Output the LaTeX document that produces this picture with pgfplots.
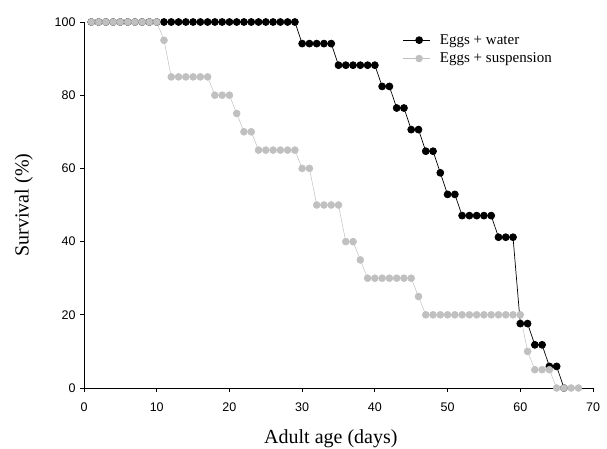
\documentclass[border=0pt]{standalone}
\usepackage{fontspec}
\setmainfont{Liberation Serif}
\newfontfamily\arial{Liberation Sans}
\usepackage{pgfplots}
\pgfplotsset{compat=1.18}
\definecolor{sgray}{RGB}{192,192,192}

\begin{document}
\begin{tikzpicture}
\useasboundingbox (0,0) rectangle (607pt,448pt);
\begin{axis}[
  at={(84pt,60pt)}, anchor=south west,
  scale only axis, width=509pt, height=366pt,
  xmin=0, xmax=70, ymin=0, ymax=100,
  xtick={0,10,...,70}, ytick={0,20,...,100},
  axis x line*=bottom, axis y line*=left,
  axis line style={-, line width=0.8pt},
  tick align=outside, major tick length=4pt,
  tick style={line width=0.8pt, black},
  /pgf/number format/assume math mode=true,
  ticklabel style={font=\arial\fontsize{12.5}{14}\selectfont},
  xticklabel style={yshift=-7pt},
  yticklabel style={xshift=-1pt},
  xlabel={Adult age (days)}, ylabel={Survival (\%)},
  label style={font=\fontsize{20}{24}\selectfont},
  xlabel style={at={(axis description cs:0.485,-0.138)}, anchor=center},
  ylabel style={at={(axis description cs:-0.118,0.5)}, anchor=center},
  clip=false,
  legend style={draw=none, fill=none, at={(0.62,0.976)}, anchor=north west,
    font=\fontsize{15}{17}\selectfont, row sep=4pt,
    nodes={inner sep=1.5pt},
    /tikz/every odd column/.append style={column sep=8pt}},
  legend cell align=left,
  legend image code/.code={
    \draw[#1, mark repeat=2, mark phase=2] plot coordinates {(0pt,0pt) (16pt,0pt) (27pt,0pt)};},
]
% eggs + water
\addplot[black, line width=0.7pt, mark=*, mark size=3.5pt, mark options={fill=black}] coordinates {
  (1,100) (2,100) (3,100) (4,100) (5,100) (6,100) (7,100) (8,100) (9,100) (10,100)
  (11,100) (12,100) (13,100) (14,100) (15,100) (16,100) (17,100) (18,100) (19,100) (20,100)
  (21,100) (22,100) (23,100) (24,100) (25,100) (26,100) (27,100) (28,100) (29,100)
  (30,94.1) (31,94.1) (32,94.1) (33,94.1) (34,94.1)
  (35,88.2) (36,88.2) (37,88.2) (38,88.2) (39,88.2) (40,88.2)
  (41,82.4) (42,82.4) (43,76.5) (44,76.5) (45,70.6) (46,70.6)
  (47,64.7) (48,64.7) (49,58.8) (50,52.9) (51,52.9)
  (52,47.1) (53,47.1) (54,47.1) (55,47.1) (56,47.1)
  (57,41.2) (58,41.2) (59,41.2)
  (60,17.6) (61,17.6) (62,11.8) (63,11.8) (64,5.9) (65,5.9) (66,0)
};
\addlegendentry{Eggs + water}
% eggs + suspension
\addplot[sgray, line width=0.5pt, mark=*, mark size=3.5pt, mark options={fill=sgray}] coordinates {
  (1,100) (2,100) (3,100) (4,100) (5,100) (6,100) (7,100) (8,100) (9,100) (10,100)
  (11,95) (12,85) (13,85) (14,85) (15,85) (16,85) (17,85)
  (18,80) (19,80) (20,80) (21,75) (22,70) (23,70)
  (24,65) (25,65) (26,65) (27,65) (28,65) (29,65)
  (30,60) (31,60) (32,50) (33,50) (34,50) (35,50)
  (36,40) (37,40) (38,35)
  (39,30) (40,30) (41,30) (42,30) (43,30) (44,30) (45,30) (46,25)
  (47,20) (48,20) (49,20) (50,20) (51,20) (52,20) (53,20) (54,20) (55,20) (56,20)
  (57,20) (58,20) (59,20) (60,20)
  (61,10) (62,5) (63,5) (64,5) (65,0) (66,0) (67,0) (68,0)
};
\addlegendentry{Eggs + suspension}
\end{axis}
\end{tikzpicture}
\end{document}
